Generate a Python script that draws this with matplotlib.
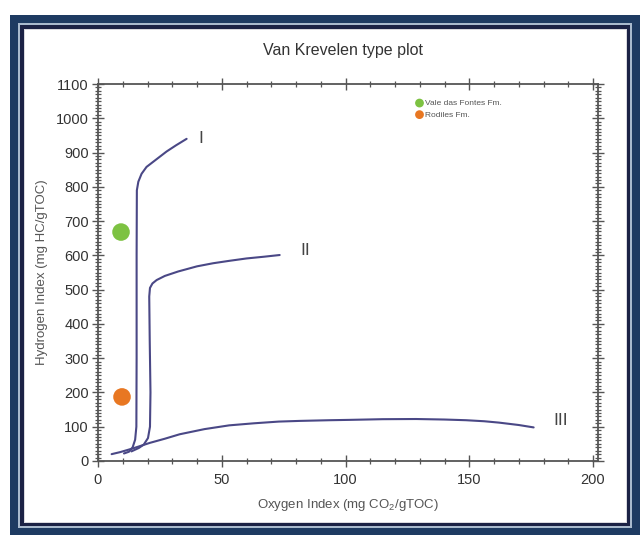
import matplotlib
matplotlib.use("Agg")
import matplotlib.pyplot as plt
from matplotlib.patches import Rectangle
from matplotlib.ticker import MultipleLocator

plt.rcParams["font.family"] = ["Liberation Sans", "DejaVu Sans"]
plt.rcParams["mathtext.fontset"] = "custom"
plt.rcParams["mathtext.rm"] = "Liberation Sans"

# Kerogen evolution paths (Oxygen Index, Hydrogen Index)
type_i_oi = [10.5, 12.5, 14.0, 15.0, 15.5, 15.6, 15.6, 15.7, 16.3, 17.6, 19.6, 22.3, 27.7, 31.5, 35.8]
type_i_hi = [22, 27, 40, 62, 100, 300, 600, 790, 815, 838, 858, 873, 903, 921, 940]

type_ii_oi = [13.5, 16.5, 18.5, 20.2, 21.0, 21.2, 20.9, 20.7, 21.0, 22.0, 23.7, 27.0, 32.4, 40.0, 46.5, 53.0, 60.0, 67.0, 73.4]
type_ii_hi = [28, 38, 48, 67, 100, 200, 350, 480, 505, 518, 528, 540, 553, 568, 577, 584, 591, 596, 601]

type_iii_oi = [5.5, 9.0, 14.2, 21.0, 27.0, 33.0, 43.0, 53.0, 63.0, 73.0, 81.5, 93.5, 101.6, 115.0, 128.5, 140.0, 148.7, 156.0, 162.0, 170.0, 176.0]
type_iii_hi = [20, 26, 37, 53, 65, 78, 93, 104, 110, 115, 117, 119, 120, 122, 122.5, 121, 119, 116, 112, 105, 98]

curve_labels = ["I", "II", "III"]
curve_label_oi = [40.7, 81.6, 183.8]
curve_label_hi = [942, 613, 117]

# Formation samples
formations = ["Vale das Fontes Fm.", "Rodiles Fm."]
sample_oi = [9.3, 9.7]
sample_hi = [668, 187]
sample_colors = ["#7dc242", "#e87722"]

W, H = 640, 535
fig = plt.figure(figsize=(W / 100, H / 100), dpi=100)
fig.patch.set_facecolor("white")


def fx(px):
    return px / W


def fy(py):
    return 1 - py / H


# Decorative frame around the chart
frame_layers = [
    (10, 15, 640, 535, "#1e3b62"),
    (18, 23, 632, 528, "#a9bacd"),
    (20, 25, 630, 526, "#1b2245"),
    (24, 29, 627, 523, "#d9d9de"),
    (25, 30, 626, 522, "white"),
]
for x0, y0, x1, y1, c in frame_layers:
    fig.patches.append(Rectangle((fx(x0), fy(y1)), fx(x1) - fx(x0), fy(y0) - fy(y1),
                                 transform=fig.transFigure, facecolor=c,
                                 edgecolor="none", zorder=-10))

ax = fig.add_axes([fx(98), fy(461), fx(598) - fx(98), fy(84) - fy(461)])
ax.set_facecolor("none")

line_color = "#4a4886"
for xs, ys in [(type_i_oi, type_i_hi), (type_ii_oi, type_ii_hi), (type_iii_oi, type_iii_hi)]:
    ax.plot(xs, ys, color=line_color, lw=1.5, solid_capstyle="round", solid_joinstyle="round")

for lab, x, y in zip(curve_labels, curve_label_oi, curve_label_hi):
    ax.text(x, y, lab, fontsize=12.5, color="#444444", ha="left", va="center")

for name, x, y, c in zip(formations, sample_oi, sample_hi, sample_colors):
    ax.scatter([x], [y], s=160, color=c, edgecolors="none", label=name, zorder=3)

leg = ax.legend(loc="upper left", bbox_to_anchor=(0.628, 0.968), frameon=False,
                fontsize=6, markerscale=0.5, handletextpad=0.15, labelspacing=0.45,
                borderaxespad=0, handlelength=1.0)
for t in leg.get_texts():
    t.set_color("#555555")

ax.set_xlim(0, 202)
ax.set_ylim(0, 1100)
ax.xaxis.set_major_locator(MultipleLocator(50))
ax.xaxis.set_minor_locator(MultipleLocator(10))
ax.yaxis.set_major_locator(MultipleLocator(100))
ax.yaxis.set_minor_locator(MultipleLocator(10))
ax.tick_params(which="both", direction="inout", top=True, right=True, color="#555555")
ax.tick_params(which="major", length=9, width=1.0, labelsize=10.5, labelcolor="#333333", pad=2)
ax.tick_params(which="minor", length=5, width=0.9)
ax.tick_params(axis="x", which="major", pad=4)
for s in ax.spines.values():
    s.set_color("#555555")
    s.set_linewidth(1.3)

ax.set_xlabel("Oxygen Index (mg CO$_2$/gTOC)", fontsize=9.5, color="#555555", labelpad=7)
ax.set_ylabel("Hydrogen Index (mg HC/gTOC)", fontsize=9.5, color="#555555", labelpad=6)
fig.text(fx(343), fy(50), "Van Krevelen type plot", fontsize=11.5, color="#333333",
         ha="center", va="center")

fig.savefig("out.png", dpi=100)
